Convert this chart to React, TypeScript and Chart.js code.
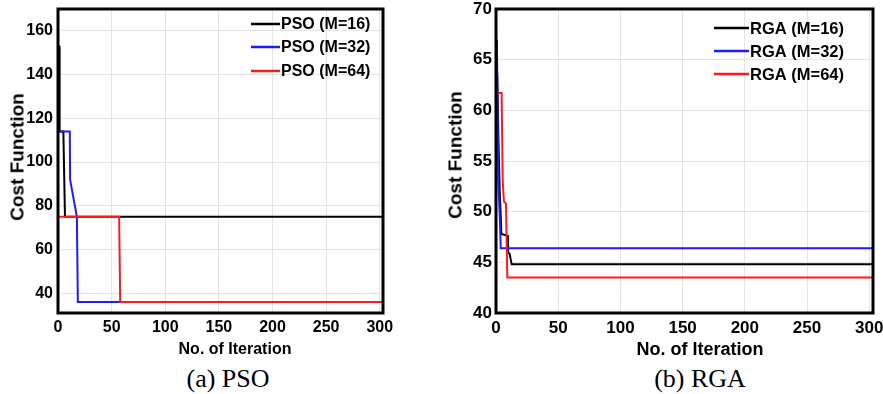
import React, { useEffect, useRef } from "react";
import { Chart, registerables } from "chart.js";

Chart.register(...registerables);

// ---------- data ----------
const X_TICKS = [0, 50, 100, 150, 200, 250, 300];
const X_MAX = 303;

const PSO_Y_TICKS = [40, 60, 80, 100, 120, 140, 160];
const PSO_Y_MIN = 31;
const PSO_Y_MAX = 170;

const PSO16_IT = [0, 1, 1.5, 5, 6.5, 303];
const PSO16_COST = [153, 153, 114, 114, 75, 75];
const PSO32_IT = [0, 11, 11.3, 17.6, 18.5, 303];
const PSO32_COST = [114, 114, 92, 75, 36, 36];
const PSO64_IT = [0, 57, 58, 303];
const PSO64_COST = [75, 75, 36, 36];

const RGA_Y_TICKS = [40, 45, 50, 55, 60, 65, 70];
const RGA_Y_MIN = 40;
const RGA_Y_MAX = 70;

const RGA16_IT = [0, 1, 2, 3, 4, 4.3, 7.2, 9.6, 9.8, 11, 12.6, 303];
const RGA16_COST = [65, 63.5, 57, 52, 49, 47.8, 47.7, 47.6, 46, 45.8, 44.8, 44.8];
const RGA32_IT = [0, 0.8, 1.3, 1.9, 3.2, 3.8, 303];
const RGA32_COST = [67, 66, 60, 53, 49, 46.4, 46.4];
const RGA64_IT = [0, 4.5, 5.4, 6.4, 8, 9.1, 303];
const RGA64_COST = [61.7, 61.7, 53, 51, 50.8, 43.5, 43.5];

const PSO_LABELS = ["PSO (M=16)", "PSO (M=32)", "PSO (M=64)"];
const RGA_LABELS = ["RGA (M=16)", "RGA (M=32)", "RGA (M=64)"];
const SERIES_COLORS = ["#000000", "#1c1cff", "#ff1a1a"];

const Y_TITLE = "Cost Function";
const X_TITLE = "No. of Iteration";

const SANS = "'Liberation Sans', Arial, Helvetica, sans-serif";
const SERIF = "'Liberation Serif', 'Times New Roman', serif";

const pts = (xs: number[], ys: number[]) => xs.map((x, i) => ({ x, y: ys[i] }));

// ---------- plugins ----------
const framePlugin = {
  id: "frame",
  afterDatasetsDraw(chart: any) {
    const { ctx, chartArea: a } = chart;
    ctx.save();
    ctx.strokeStyle = "#000";
    ctx.lineWidth = 3;
    ctx.strokeRect(a.left, a.top, a.right - a.left, a.bottom - a.top);
    ctx.restore();
  },
};

const miniLegendPlugin = {
  id: "miniLegend",
  afterDraw(chart: any, _args: any, opts: any) {
    if (!opts || !opts.rows) return;
    const { ctx } = chart;
    ctx.save();
    chart.data.datasets.forEach((ds: any, i: number) => {
      const y = opts.rows[i];
      ctx.strokeStyle = ds.borderColor;
      ctx.lineWidth = 2.5;
      ctx.beginPath();
      ctx.moveTo(opts.lineX0, y);
      ctx.lineTo(opts.lineX1, y);
      ctx.stroke();
      ctx.fillStyle = "#000";
      ctx.font = `bold ${opts.fontSize}px ${SANS}`;
      ctx.textBaseline = "middle";
      ctx.textAlign = "left";
      ctx.fillText(ds.label, opts.textX, y + 1);
    });
    ctx.restore();
  },
};

type PanelProps = {
  left: number;
  width: number;
  height: number;
  padTop: number;
  padRight: number;
  yAxisWidth: number;
  xAxisHeight: number;
  yMin: number;
  yMax: number;
  yTicks: number[];
  labels: string[];
  its: number[][];
  costs: number[][];
  tickSize: number;
  yTickPad: number;
  legend: { lineX0: number; lineX1: number; textX: number; rows: number[]; fontSize: number };
};

function Panel(p: PanelProps) {
  const ref = useRef<HTMLCanvasElement | null>(null);
  useEffect(() => {
    if (!ref.current) return;
    const tickFont = { family: SANS, size: p.tickSize, weight: "bold" as const };
    const chart = new Chart(ref.current, {
      type: "line",
      data: {
        datasets: p.labels.map((label, i) => ({
          label,
          data: pts(p.its[i], p.costs[i]),
          borderColor: SERIES_COLORS[i],
          backgroundColor: SERIES_COLORS[i],
          borderWidth: 2,
          pointRadius: 0,
          tension: 0,
          fill: false,
          order: 3 - i,
        })),
      },
      options: {
        responsive: false,
        animation: false,
        events: [],
        layout: { padding: { top: p.padTop, right: p.padRight, left: 0, bottom: 0 } },
        plugins: {
          legend: { display: false },
          tooltip: { enabled: false },
          miniLegend: p.legend,
        } as any,
        scales: {
          x: {
            type: "linear",
            min: 0,
            max: X_MAX,
            grid: { color: "#e4e4e4", drawTicks: false, lineWidth: 1 },
            border: { display: false },
            ticks: { font: tickFont, color: "#000", padding: 5, maxRotation: 0 },
            afterBuildTicks: (s: any) => {
              s.ticks = X_TICKS.map((v) => ({ value: v }));
            },
            afterFit: (s: any) => {
              s.height = p.xAxisHeight;
              s.paddingLeft = 0;
              s.paddingRight = 0;
            },
          },
          y: {
            type: "linear",
            min: p.yMin,
            max: p.yMax,
            grid: { color: "#e4e4e4", drawTicks: false, lineWidth: 1 },
            border: { display: false },
            ticks: { font: tickFont, color: "#000", padding: p.yTickPad },
            afterBuildTicks: (s: any) => {
              s.ticks = p.yTicks.map((v) => ({ value: v }));
            },
            afterFit: (s: any) => {
              s.width = p.yAxisWidth;
              s.paddingTop = 0;
              s.paddingBottom = 0;
            },
          },
        },
      },
      plugins: [framePlugin, miniLegendPlugin],
    });
    return () => chart.destroy();
  }, []);
  return (
    <canvas
      ref={ref}
      width={p.width}
      height={p.height}
      style={{ position: "absolute", left: p.left, top: 0, width: p.width, height: p.height, display: "block" }}
    />
  );
}

function Txt(props: { x: number; y: number; text: string; font: string; rotate?: boolean }) {
  return (
    <div
      style={{
        position: "absolute",
        left: props.x,
        top: props.y,
        transform: `translate(-50%, -50%)${props.rotate ? " rotate(-90deg)" : ""}`,
        whiteSpace: "nowrap",
        font: props.font,
        color: "#000",
        lineHeight: 1,
      }}
    >
      {props.text}
    </div>
  );
}

export default function App() {
  return (
    <div
      style={{
        position: "absolute",
        left: 0,
        top: 0,
        width: 883,
        height: 394,
        background: "#fff",
        overflow: "hidden",
      }}
    >
      <Panel
        left={0}
        width={400}
        height={345}
        padTop={9}
        padRight={17}
        yAxisWidth={58}
        xAxisHeight={32}
        yMin={PSO_Y_MIN}
        yMax={PSO_Y_MAX}
        yTicks={PSO_Y_TICKS}
        labels={PSO_LABELS}
        its={[PSO16_IT, PSO32_IT, PSO64_IT]}
        costs={[PSO16_COST, PSO32_COST, PSO64_COST]}
        tickSize={16}
        yTickPad={5}
        legend={{ lineX0: 251, lineX1: 280, textX: 281, rows: [24, 47, 71], fontSize: 16 }}
      />
      <Panel
        left={437}
        width={446}
        height={345}
        padTop={9}
        padRight={10}
        yAxisWidth={59}
        xAxisHeight={32}
        yMin={RGA_Y_MIN}
        yMax={RGA_Y_MAX}
        yTicks={RGA_Y_TICKS}
        labels={RGA_LABELS}
        its={[RGA16_IT, RGA32_IT, RGA64_IT]}
        costs={[RGA16_COST, RGA32_COST, RGA64_COST]}
        tickSize={17}
        yTickPad={4}
        legend={{ lineX0: 277, lineX1: 312, textX: 313, rows: [28, 51, 74], fontSize: 16.5 }}
      />
      <Txt x={17} y={157} text={Y_TITLE} font={`bold 19px ${SANS}`} rotate />
      <Txt x={455} y={155} text={Y_TITLE} font={`bold 19px ${SANS}`} rotate />
      <Txt x={235} y={349} text={X_TITLE} font={`bold 16px ${SANS}`} />
      <Txt x={700} y={349} text={X_TITLE} font={`bold 18px ${SANS}`} />
      <Txt x={228} y={379} text="(a) PSO" font={`26px ${SERIF}`} />
      <Txt x={700} y={379} text="(b) RGA" font={`26px ${SERIF}`} />
    </div>
  );
}
